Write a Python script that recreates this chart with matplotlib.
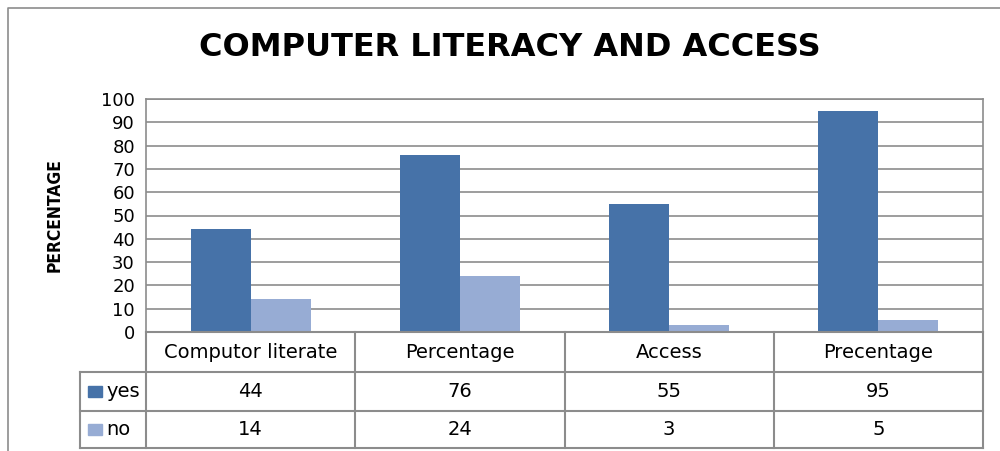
import matplotlib.pyplot as plt
from matplotlib.patches import Rectangle
import numpy as np

plt.rcParams['font.family'] = ['DejaVu Sans']

categories = ['Computor literate', 'Percentage', 'Access', 'Precentage']
series = ['yes', 'no']
yes_vals = [44, 76, 55, 95]
no_vals = [14, 24, 3, 5]
colors = ['#4672A8', '#97ACD4']
yticks = list(range(0, 101, 10))

W, H = 1000, 451
fig = plt.figure(figsize=(10, 4.51), dpi=100)

def fx(px):
    return px / W

def fy(py):
    return 1 - py / H

# outer chart frame (left and top edges visible)
fig.add_artist(plt.Line2D([fx(8), fx(8), fx(1000)], [0, fy(8), fy(8)],
                          color='#8c8c8c', lw=1.2))

fig.text(fx(510), fy(48), 'COMPUTER LITERACY AND ACCESS', ha='center', va='center',
         fontsize=23, fontweight='bold')

# main plot area
ax = fig.add_axes([fx(146), fy(332), fx(983) - fx(146), fy(99) - fy(332)])
x = np.arange(len(categories))
w = 0.287
ax.bar(x - w / 2, yes_vals, w, color=colors[0], zorder=3)
ax.bar(x + w / 2, no_vals, w, color=colors[1], zorder=3)
ax.set_xlim(-0.5, len(categories) - 0.5)
ax.set_ylim(0, 100)
ax.set_yticks(yticks)
ax.tick_params(axis='y', labelsize=13, length=0, pad=8)
ax.set_xticks([])
ax.yaxis.grid(True, color='#8c8c8c', lw=1.2, zorder=0)
for s in ax.spines.values():
    s.set_color('#8c8c8c')
    s.set_linewidth(1.2)
ax.spines['bottom'].set_visible(False)
ax.set_axisbelow(True)

fig.text(fx(55), fy(215), 'PERCENTAGE', rotation=90, ha='center', va='center',
         fontsize=12.5, fontweight='bold', fontstretch='condensed')

# data table below the axis
tx0 = -0.5 - (146 - 80) / ((983 - 146) / len(categories))
tax = fig.add_axes([fx(80), fy(448), fx(983) - fx(80), fy(332) - fy(448)])
tax.set_xlim(tx0, len(categories) - 0.5)
tax.set_ylim(116, 0)
tax.axis('off')
lc = dict(color='#8c8c8c', lw=1.5, clip_on=False)
rows = [0, 40, 79, 116]
tax.plot([-0.5, len(categories) - 0.5], [rows[0], rows[0]], **lc)
for r in rows[1:]:
    tax.plot([tx0, len(categories) - 0.5], [r, r], **lc)
for b in np.arange(len(categories) + 1) - 0.5:
    tax.plot([b, b], [rows[0], rows[-1]], **lc)
tax.plot([tx0, tx0], [rows[1], rows[-1]], **lc)

for i, c in enumerate(categories):
    tax.text(i, (rows[0] + rows[1]) / 2, c, ha='center', va='center', fontsize=14)
for j, (name, vals) in enumerate(zip(series, [yes_vals, no_vals])):
    yc = (rows[j + 1] + rows[j + 2]) / 2
    for i, v in enumerate(vals):
        tax.text(i, yc, str(v), ha='center', va='center', fontsize=14)
    kx = tx0 + 0.04
    tax.add_patch(Rectangle((kx, yc - 6), 0.065, 11, color=colors[j], clip_on=False))
    tax.text(kx + 0.085, yc, name, ha='left', va='center', fontsize=14)

fig.savefig('out.png', dpi=100)
